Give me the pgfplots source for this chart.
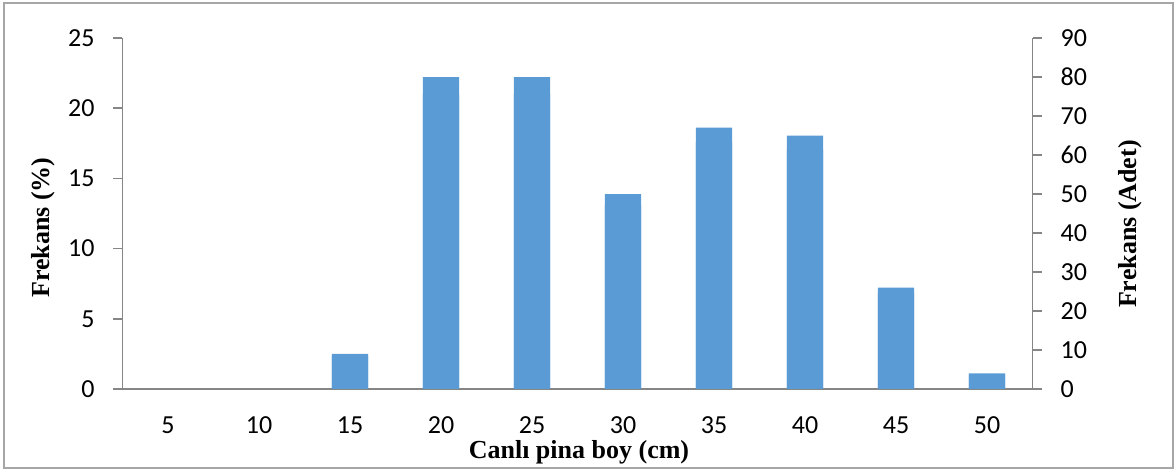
\documentclass[border=0pt]{standalone}
\usepackage{pgfplots}
\pgfplotsset{compat=1.18}
\usepackage{fontspec}
\setmainfont{Carlito}
\newfontfamily\timesbf{Liberation Serif}
\definecolor{barblue}{HTML}{5B9BD5}
\definecolor{axgray}{HTML}{868686}
\definecolor{framegray}{HTML}{A6A6A6}

\pgfplotstableread{
x cat pct adet
0 5  0     0
1 10 0     0
2 15 2.36  9
3 20 21.0  80
4 25 21.0  80
5 30 13.12 50
6 35 17.59 67
7 40 17.06 65
8 45 6.82  26
9 50 1.05  4
}\datatable

\begin{document}
\begin{tikzpicture}
% page size (1176 x 470 px at 0.5pt/px), axis origin at px (122.5,389)
\path (-61.25pt,194.5pt) rectangle (526.75pt,-40.5pt);
\draw[framegray, line width=0.9pt] (-59.25pt,193pt) rectangle (525.25pt,-39.5pt);

\begin{axis}[
  at={(0,0)}, anchor=south west,
  scale only axis, width=455pt, height=175.5pt,
  xmin=-0.5, xmax=9.5, ymin=0, ymax=25,
  axis x line*=bottom, axis y line*=left,
  axis line style={axgray, line width=0.8pt},
  xtick={0,...,9},
  xticklabels={5,10,15,20,25,30,35,40,45,50},
  xtick style={draw=none},
  extra x ticks={-0.5,0.5,...,9.5},
  extra x tick labels={},
  extra x tick style={major tick length=4pt, tick style={axgray, line width=0.8pt}},
  ytick={0,5,...,25},
  ytick style={axgray, line width=0.8pt},
  tick align=outside, major tick length=4.5pt,
  tick label style={font=\fontsize{13}{15}\selectfont, text=black},
  /pgf/number format/assume math mode=true,
  xticklabel style={yshift=-6pt},
  yticklabel style={xshift=-6pt},
  xlabel={\timesbf\bfseries Canlı pina boy (cm)},
  xlabel style={at={(axis description cs:0.5016,-0.179)}, anchor=center, font=\fontsize{13}{15}\selectfont},
  ylabel={\timesbf\bfseries Frekans (\%)},
  ylabel style={at={(axis description cs:-0.0874,0.46)}, anchor=center, font=\fontsize{13}{15}\selectfont},
  ybar, bar width=18.2pt,
  unbounded coords=discard,
  y filter/.expression={y==0 ? nan : y},
]
\addplot[draw=none, fill=barblue] table[x=x, y=pct] {\datatable};
\end{axis}

\begin{axis}[
  at={(0,0)}, anchor=south west,
  scale only axis, width=455pt, height=175.5pt,
  xmin=-0.5, xmax=9.5, ymin=0, ymax=90,
  axis x line=none, axis y line*=right,
  axis line style={axgray, line width=0.8pt},
  ytick={0,10,...,90},
  ytick style={axgray, line width=0.8pt},
  tick align=outside, major tick length=4.5pt,
  tick label style={font=\fontsize{13}{15}\selectfont, text=black},
  /pgf/number format/assume math mode=true,
  yticklabel style={xshift=6pt},
  ylabel={\timesbf\bfseries Frekans (Adet)},
  ylabel style={at={(axis description cs:1.107,0.47)}, anchor=center, font=\fontsize{13}{15}\selectfont},
  ybar, bar width=18.2pt,
  unbounded coords=discard,
  y filter/.expression={y==0 ? nan : y},
]
\addplot[draw=none, fill=barblue] table[x=x, y=adet] {\datatable};
\end{axis}
\end{tikzpicture}
\end{document}
